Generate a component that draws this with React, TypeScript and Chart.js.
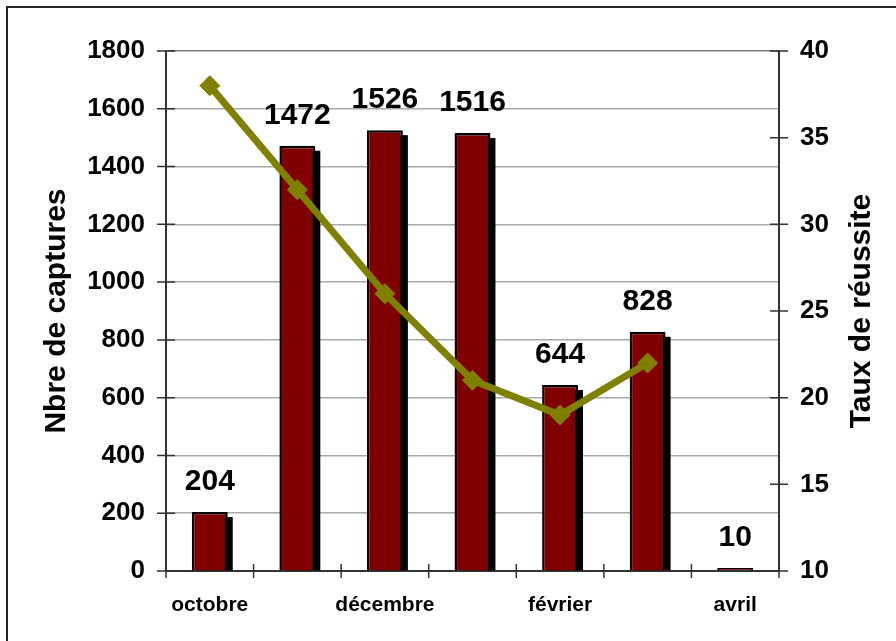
import React, { useEffect, useRef } from 'react';
import { Chart, registerables } from 'chart.js';

Chart.register(...registerables);

const months = ['octobre', 'novembre', 'décembre', 'janvier', 'février', 'mars', 'avril'];
const shownMonthLabels = ['octobre', '', 'décembre', '', 'février', '', 'avril'];
const captures = [204, 1472, 1526, 1516, 644, 828, 10];
const tauxReussite: (number | null)[] = [38, 32, 26, 21, 19, 22, null];
const leftAxisRange = [0, 1800, 200];
const rightAxisRange = [10, 40, 5];
const leftTitle = 'Nbre de captures';
const rightTitle = 'Taux de réussite';

const FONT = '"Liberation Sans", Arial, sans-serif';

const decorPlugin = {
  id: 'decor',
  beforeDraw(chart: any) {
    const ctx = chart.ctx;
    ctx.save();
    ctx.fillStyle = '#ffffff';
    ctx.fillRect(0, 0, chart.width, chart.height);
    ctx.strokeStyle = '#222222';
    ctx.lineWidth = 2;
    ctx.strokeRect(7, 7, chart.width + 20, chart.height + 20);
    ctx.restore();
  },
  beforeDatasetsDraw(chart: any) {
    const ctx = chart.ctx;
    const area = chart.chartArea;
    const idx = chart.data.datasets.findIndex((d: any) => d.type === 'bar');
    const meta = chart.getDatasetMeta(idx);
    ctx.save();
    ctx.beginPath();
    ctx.rect(area.left, area.top, area.right - area.left, area.bottom - area.top);
    ctx.clip();
    ctx.fillStyle = '#000000';
    meta.data.forEach((el: any) => {
      const w = el.width;
      const top = Math.min(el.y, el.base) + 5;
      const h = Math.max(el.y, el.base) - top;
      if (h > 0) ctx.fillRect(el.x - w / 2 + 5, top, w, h);
    });
    ctx.restore();
  },
  afterDatasetsDraw(chart: any) {
    const ctx = chart.ctx;
    const idx = chart.data.datasets.findIndex((d: any) => d.type === 'bar');
    const meta = chart.getDatasetMeta(idx);
    const data = chart.data.datasets[idx].data;
    ctx.save();
    ctx.fillStyle = '#000000';
    ctx.font = `bold 30px ${FONT}`;
    ctx.textAlign = 'center';
    ctx.textBaseline = 'alphabetic';
    meta.data.forEach((el: any, i: number) => {
      ctx.fillText(String(data[i]), el.x, el.y - 22);
    });
    ctx.restore();
  },
  afterDraw(chart: any) {
    const ctx = chart.ctx;
    const area = chart.chartArea;
    const y = chart.scales.y;
    const y1 = chart.scales.y1;
    const x = chart.scales.x;
    ctx.save();
    ctx.strokeStyle = '#333333';
    ctx.lineWidth = 1.5;
    ctx.beginPath();
    y.ticks.forEach((t: any) => {
      const py = y.getPixelForValue(t.value);
      ctx.moveTo(area.left - 9, py);
      ctx.lineTo(area.left + 9, py);
    });
    y1.ticks.forEach((t: any) => {
      const py = y1.getPixelForValue(t.value);
      ctx.moveTo(area.right - 9, py);
      ctx.lineTo(area.right + 9, py);
    });
    for (let i = 0; i <= months.length; i++) {
      const px = x.getPixelForValue(i - 0.5);
      ctx.moveTo(px, area.bottom - 7);
      ctx.lineTo(px, area.bottom + 7);
    }
    ctx.stroke();

    ctx.fillStyle = '#000000';
    ctx.font = `bold 30px ${FONT}`;
    ctx.textAlign = 'center';
    ctx.textBaseline = 'alphabetic';
    const cy = (area.top + area.bottom) / 2;
    ctx.save();
    ctx.translate(65, cy);
    ctx.rotate(-Math.PI / 2);
    ctx.fillText(leftTitle, 0, 0);
    ctx.restore();
    ctx.save();
    ctx.translate(870, cy);
    ctx.rotate(-Math.PI / 2);
    ctx.fillText(rightTitle, 0, 0);
    ctx.restore();
    ctx.restore();
  },
};

export default function App() {
  const ref = useRef<HTMLCanvasElement | null>(null);
  useEffect(() => {
    if (!ref.current) return;
    const chart = new Chart(ref.current, {
      type: 'bar',
      data: {
        labels: months,
        datasets: [
          {
            type: 'line',
            label: rightTitle,
            data: tauxReussite,
            yAxisID: 'y1',
            borderColor: '#808000',
            backgroundColor: '#808000',
            borderWidth: 7,
            pointStyle: 'rectRot',
            pointRadius: 10,
            pointBorderWidth: 1,
            pointBackgroundColor: '#808000',
            pointBorderColor: '#808000',
            tension: 0,
            order: 1,
          } as any,
          {
            type: 'bar',
            label: leftTitle,
            data: captures,
            yAxisID: 'y',
            backgroundColor: '#800000',
            borderColor: '#000000',
            borderWidth: 2.5,
            barPercentage: 0.41,
            categoryPercentage: 1,
            order: 2,
          } as any,
        ],
      },
      options: {
        responsive: false,
        animation: false,
        layout: { padding: { top: 51, left: 0, right: 0, bottom: 0 } },
        plugins: {
          legend: { display: false },
          tooltip: { enabled: false },
          title: { display: false },
        },
        scales: {
          x: {
            type: 'category',
            offset: true,
            grid: { display: false, drawTicks: false },
            border: { display: true, color: '#333333', width: 2 },
            ticks: {
              autoSkip: false,
              maxRotation: 0,
              padding: 22,
              color: '#000000',
              font: { family: FONT, size: 21, weight: 'bold' },
              callback: (_v: any, i: number) => shownMonthLabels[i],
            },
            afterFit: (s: any) => {
              s.height = 70;
            },
          },
          y: {
            position: 'left',
            min: leftAxisRange[0],
            max: leftAxisRange[1],
            grid: {
              drawTicks: false,
              color: (c: any) => (c.tick && c.tick.value === leftAxisRange[1] ? '#777777' : '#a8a8a8'),
              lineWidth: 1.5,
            },
            border: { display: true, color: '#333333', width: 2 },
            ticks: {
              stepSize: leftAxisRange[2],
              padding: 21,
              color: '#000000',
              font: { family: FONT, size: 26, weight: 'bold' },
              callback: (v: any) => String(v),
            },
            afterFit: (s: any) => {
              s.width = 166;
            },
          },
          y1: {
            position: 'right',
            min: rightAxisRange[0],
            max: rightAxisRange[1],
            grid: { display: false, drawTicks: false },
            border: { display: true, color: '#333333', width: 2 },
            ticks: {
              stepSize: rightAxisRange[2],
              padding: 21,
              color: '#000000',
              font: { family: FONT, size: 26, weight: 'bold' },
              callback: (v: any) => String(v),
            },
            afterFit: (s: any) => {
              s.width = 117;
            },
          },
        },
      },
      plugins: [decorPlugin],
    });
    return () => chart.destroy();
  }, []);
  return (
    <div style={{ position: 'absolute', left: 0, top: 0, width: 896, height: 641 }}>
      <canvas ref={ref} width={896} height={641} style={{ display: 'block' }} />
    </div>
  );
}
